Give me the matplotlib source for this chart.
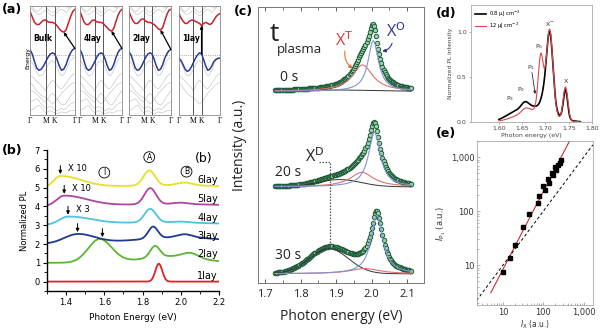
import numpy as np
import matplotlib.pyplot as plt
from matplotlib.ticker import FuncFormatter, MultipleLocator, LogLocator, NullFormatter

W, H = 600, 330

##### (a) band structures, energies normalised to the panel height #####
k_path = np.linspace(0, 1, 21)
k_ticks = [0, 0.35, 0.55, 1.0]
k_labels = ['Γ', 'M', 'K', 'Γ']
band_panels = ['Bulk', '4lay', '2lay', '1lay']

cb_bulk = [0.95, 0.90, 0.85, 0.83, 0.83, 0.85, 0.87, 0.87, 0.855, 0.85, 0.85, 0.84, 0.82, 0.79, 0.77, 0.76, 0.78, 0.84, 0.90, 0.95, 0.97]
cb_4lay = [0.95, 0.90, 0.85, 0.83, 0.83, 0.85, 0.87, 0.87, 0.855, 0.85, 0.85, 0.84, 0.82, 0.80, 0.78, 0.77, 0.79, 0.85, 0.91, 0.95, 0.97]
cb_2lay = [0.95, 0.90, 0.86, 0.84, 0.84, 0.86, 0.88, 0.88, 0.86, 0.85, 0.85, 0.84, 0.83, 0.81, 0.79, 0.78, 0.80, 0.86, 0.92, 0.96, 0.97]
cb_1lay = [0.93, 0.89, 0.86, 0.84, 0.84, 0.86, 0.87, 0.87, 0.86, 0.85, 0.84, 0.82, 0.84, 0.85, 0.84, 0.83, 0.84, 0.87, 0.90, 0.92, 0.93]

vb_bulk = [0.60, 0.56, 0.49, 0.43, 0.41, 0.42, 0.45, 0.49, 0.53, 0.56, 0.57, 0.56, 0.51, 0.45, 0.41, 0.42, 0.46, 0.52, 0.57, 0.60, 0.61]
vb_4lay = [0.60, 0.56, 0.49, 0.43, 0.41, 0.42, 0.45, 0.49, 0.53, 0.56, 0.57, 0.56, 0.51, 0.45, 0.41, 0.42, 0.46, 0.52, 0.57, 0.60, 0.61]
vb_2lay = [0.58, 0.55, 0.49, 0.43, 0.41, 0.42, 0.45, 0.49, 0.53, 0.56, 0.57, 0.56, 0.51, 0.45, 0.41, 0.42, 0.46, 0.52, 0.56, 0.59, 0.60]
vb_1lay = [0.52, 0.50, 0.46, 0.42, 0.40, 0.41, 0.44, 0.48, 0.52, 0.55, 0.57, 0.56, 0.51, 0.45, 0.41, 0.42, 0.45, 0.49, 0.51, 0.52, 0.52]

gray_up1 = [1.02, 0.99, 0.96, 0.95, 0.96, 0.98, 1.00, 0.99, 0.97, 0.95, 0.94, 0.95, 0.97, 0.99, 1.01, 1.02, 1.00, 0.98, 0.99, 1.01, 1.03]
gray_up2 = [0.98, 0.97, 0.95, 0.93, 0.92, 0.93, 0.95, 0.96, 0.94, 0.92, 0.91, 0.92, 0.94, 0.96, 0.97, 0.96, 0.94, 0.96, 0.98, 1.00, 1.00]
gray_lo1 = [0.50, 0.48, 0.44, 0.39, 0.36, 0.36, 0.38, 0.42, 0.46, 0.49, 0.50, 0.48, 0.44, 0.39, 0.36, 0.37, 0.41, 0.46, 0.50, 0.52, 0.53]
gray_lo2 = [0.36, 0.35, 0.33, 0.31, 0.29, 0.27, 0.25, 0.22, 0.26, 0.30, 0.32, 0.30, 0.27, 0.25, 0.24, 0.26, 0.29, 0.32, 0.35, 0.37, 0.38]
gray_lo3 = [0.30, 0.28, 0.25, 0.22, 0.20, 0.18, 0.17, 0.16, 0.14, 0.12, 0.10, 0.12, 0.14, 0.17, 0.20, 0.22, 0.24, 0.26, 0.28, 0.29, 0.30]
gray_lo4 = [0.22, 0.22, 0.21, 0.19, 0.17, 0.15, 0.13, 0.12, 0.15, 0.18, 0.20, 0.18, 0.15, 0.12, 0.10, 0.09, 0.11, 0.14, 0.17, 0.20, 0.22]
gray_lo5 = [0.12, 0.13, 0.14, 0.15, 0.13, 0.10, 0.08, 0.06, 0.07, 0.08, 0.07, 0.05, 0.04, 0.05, 0.06, 0.05, 0.06, 0.08, 0.10, 0.11, 0.12]
gray_lo6 = [0.04, 0.05, 0.06, 0.08, 0.09, 0.07, 0.04, 0.02, 0.03, 0.04, 0.03, 0.02, 0.01, 0.02, 0.03, 0.02, 0.02, 0.03, 0.04, 0.04, 0.04]

# gap arrows: (k, E) of valence start and conduction end
gap_start = [(1.0, 0.61), (1.0, 0.61), (1.0, 0.60), (0.55, 0.56)]
gap_end = [(0.75, 0.76), (0.75, 0.77), (0.75, 0.78), (0.55, 0.82)]

##### (b) layer dependent PL, peak parameters #####
layers = ['1lay', '2lay', '3lay', '4lay', '5lay', '6lay']
layer_colors = ['#e41f26', '#5db534', '#1f3a93', '#4ec3dc', '#b2449f', '#e5e02a']
layer_offset = [0, 1, 2, 3, 4, 5]
peakI_pos = [1.50, 1.575, 1.46, 1.41, 1.39, 1.37]
peakI_amp = [0.0, 1.25, 0.50, 0.42, 0.55, 0.60]
peakI_wl = [0.05, 0.060, 0.070, 0.045, 0.040, 0.035]
peakI_wr = [0.05, 0.065, 0.090, 0.120, 0.120, 0.110]
peakA_pos = [1.885, 1.865, 1.855, 1.84, 1.84, 1.835]
peakA_amp = [0.95, 0.60, 0.63, 0.72, 0.86, 0.80]
peakA_w = [0.018, 0.025, 0.025, 0.030, 0.030, 0.030]
peakB_pos = [2.05, 2.05, 2.02, 2.00, 2.00, 2.02]
peakB_amp = [0.0, 0.25, 0.17, 0.05, 0.08, 0.15]
bg_pos = [1.9, 1.95, 2.0, 1.9, 1.95, 1.95]
bg_amp = [0.0, 0.35, 0.35, 0.15, 0.12, 0.12]
bg_w = [0.2, 0.15, 0.25, 0.30, 0.30, 0.30]
arrow_text = ['', '', '', 'X 3', 'X 10', 'X 10']

##### (c) plasma treatment fits #####
c_times = ['0 s', '20 s', '30 s']
c_offset = [2.77, 1.32, 0.0]
x0_pos = [2.005, 2.008, 2.015]
x0_amp = [0.77, 0.83, 0.89]
x0_hw = [0.018, 0.020, 0.020]
xt_pos = [1.975, 1.973, 1.98]
xt_amp = [0.40, 0.22, 0.08]
xt_hw = [0.035, 0.040, 0.050]
xd_pos = [1.90, 1.91, 1.88]
xd_amp = [0.02, 0.11, 0.38]
xd_w = [0.10, 0.06, 0.055]

##### (d) power dependent PL #####
d_labels = ['0.8 μJ cm$^{-2}$', '12 μJ cm$^{-2}$']
d_colors = ['black', '#d9474a']
d_pos_low = [1.63, 1.656, 1.695, 1.709, 1.743, 1.68]
d_amp_low = [0.05, 0.07, 0.10, 0.88, 0.33, 0.17]
d_w_low = [0.020, 0.008, 0.006, 0.007, 0.0045, 0.035]
d_pos_high = [1.657, 1.69, 1.709, 1.743, 1.675]
d_amp_high = [0.04, 0.62, 0.95, 0.37, 0.13]
d_w_high = [0.008, 0.0055, 0.007, 0.005, 0.035]

##### (e) P1 vs X intensity #####
ix = [10, 14.6, 20.2, 31.3, 45, 74, 77, 98, 112, 128, 135, 163, 170, 191, 202, 231, 254, 280]
ip1 = [7.5, 13.6, 23.5, 51, 88, 139, 190, 290, 245, 403, 340, 515, 465, 650, 590, 730, 780, 870]
fit_exp = 1.44
fit_pref = 0.305


def box(x0, y0, x1, y1):
    return [x0 / W, 1 - y1 / H, (x1 - x0) / W, (y1 - y0) / H]


def gauss(x, c, a, w):
    return a * np.exp(-0.5 * ((x - c) / w) ** 2)


def lorentz(x, c, a, hw):
    return a / (1 + ((x - c) / hw) ** 2)


fig = plt.figure(figsize=(6, 3.3), dpi=100)

# ---------- (a) ----------
cbs = [cb_bulk, cb_4lay, cb_2lay, cb_1lay]
vbs = [vb_bulk, vb_4lay, vb_2lay, vb_1lay]
grays = [gray_up1, gray_up2, gray_lo1, gray_lo2, gray_lo3, gray_lo4, gray_lo5, gray_lo6]
a_boxes = [(30, 6, 75, 115), (80, 6, 122, 115), (129, 6, 171, 115), (179, 6, 220, 115)]
for i, name in enumerate(band_panels):
    ax = fig.add_axes(box(*a_boxes[i]))
    ng = len(grays) if i < 3 else 5
    for g in grays[:ng]:
        ax.plot(k_path, g, color='#c4c4c4', lw=0.45)
    ax.axhline(0.55, color='#888888', lw=0.6, ls=':')
    for kt in k_ticks[1:3]:
        ax.axvline(kt, color='#555555', lw=0.7)
    ax.plot(k_path, cbs[i], color='#c8202f', lw=1.1)
    ax.plot(k_path, vbs[i], color='#2a3a97', lw=1.1)
    ax.annotate('', xy=gap_end[i], xytext=gap_start[i],
                arrowprops=dict(arrowstyle='-|>', color='black', lw=0.9,
                                mutation_scale=4, shrinkA=0, shrinkB=0))
    ax.text(0.08, 0.68, name, fontsize=5.5, fontweight='bold')
    ax.set_xlim(0, 1)
    ax.set_ylim(0, 1.0)
    ax.set_xticks(k_ticks)
    ax.set_xticklabels(k_labels, family='Liberation Serif', fontsize=5.5)
    ax.set_yticks([])
    ax.tick_params(axis='x', length=0, pad=1.5)
    for s in ax.spines.values():
        s.set_color('#888888')
        s.set_linewidth(0.6)
fig.text(28 / W, 1 - 58 / H, 'Energy', rotation=90, fontsize=4.5, ha='center', va='center')

# ---------- (b) ----------
axb = fig.add_axes(box(47, 150, 219, 291))
eb = np.linspace(1.3, 2.2, 500)
for i, lay in enumerate(layers):
    left = eb < peakI_pos[i]
    wI = np.where(left, peakI_wl[i], peakI_wr[i])
    spec = (layer_offset[i] + gauss(eb, peakI_pos[i], peakI_amp[i], wI)
            + gauss(eb, peakA_pos[i], peakA_amp[i], peakA_w[i])
            + gauss(eb, peakB_pos[i], peakB_amp[i], 0.04)
            + gauss(eb, bg_pos[i], bg_amp[i], bg_w[i]))
    axb.plot(eb, spec, color=layer_colors[i], lw=1.3)
    axb.text(2.195, layer_offset[i] + (0.32 if i == 0 else 0.4 + 0.08 * (i == 1)), lay,
             fontsize=7, ha='right', va='center')
    if i > 0:
        top = np.interp(peakI_pos[i], eb, spec)
        xa = peakI_pos[i] + (0.015 if i == 1 else 0.0)
        axb.annotate('', xy=(xa, top + 0.1), xytext=(xa, top + 0.55),
                     arrowprops=dict(arrowstyle='-|>', color='black', lw=0.7,
                                     mutation_scale=5, shrinkA=0, shrinkB=0))
        if arrow_text[i]:
            axb.text(xa + 0.04, top + 0.4, arrow_text[i], fontsize=6, va='center')
circ = dict(boxstyle='circle,pad=0.12', fc='none', ec='black', lw=0.6)
axb.text(1.6, 5.8, 'I', fontsize=5.5, ha='center', va='center', bbox=circ)
axb.text(1.835, 6.62, 'A', fontsize=5.5, ha='center', va='center', bbox=circ)
axb.text(2.03, 5.85, 'B', fontsize=5.5, ha='center', va='center', bbox=circ)
axb.text(2.12, 6.55, '(b)', fontsize=9, ha='center', va='center')
axb.set_xlim(1.3, 2.2)
axb.set_ylim(-0.5, 7)
axb.xaxis.set_major_locator(MultipleLocator(0.2))
axb.xaxis.set_minor_locator(MultipleLocator(0.1))
axb.yaxis.set_major_locator(MultipleLocator(1))
axb.yaxis.set_minor_locator(MultipleLocator(0.5))
axb.xaxis.set_major_formatter(FuncFormatter(lambda v, p: f'{v:.1f}'))
axb.tick_params(labelsize=6, length=3, width=0.8, pad=2)
axb.tick_params(which='minor', length=2, width=0.6)
axb.spines['top'].set_visible(False)
axb.spines['right'].set_visible(False)
axb.spines['left'].set_linewidth(1.0)
axb.spines['bottom'].set_linewidth(1.0)
axb.set_xlabel('Photon Energy (eV)', fontsize=6.5, labelpad=4)
axb.set_ylabel('Normalized PL', fontsize=6, labelpad=4)

# ---------- (c) ----------
axc = fig.add_axes(box(258, 7, 424, 283))
ec = np.arange(1.728, 2.114, 0.003)
for i, t in enumerate(c_times):
    b = c_offset[i]
    p0 = lorentz(ec, x0_pos[i], x0_amp[i], x0_hw[i])
    pt = lorentz(ec, xt_pos[i], xt_amp[i], xt_hw[i])
    pd = gauss(ec, xd_pos[i], xd_amp[i], xd_w[i])
    axc.plot(ec, b + p0 + pt + pd, ls='none', marker='o', ms=3.2, mfc='#9fd3b0',
             mec='#1c5a36', mew=0.7)
    axc.plot(ec, b + pd, color='#333333', lw=0.7)
    axc.plot(ec, b + pt, color='#e0716f', lw=0.8)
    axc.plot(ec, b + p0, color='#7f93d6', lw=0.8)
axc.text(1.742, c_offset[0] + 0.1, c_times[0], fontsize=10, family='Open Sans',
         va='bottom', color='#222222')
axc.text(1.728, c_offset[1] + 0.1, c_times[1], fontsize=10, family='Open Sans',
         va='bottom', color='#222222')
axc.text(1.728, c_offset[2] + 0.17, c_times[2], fontsize=10, family='Open Sans',
         va='bottom', color='#222222')
axc.text(1.712, 3.44, 't', fontsize=19, family='Open Sans', va='bottom', color='#222222')
axc.text(1.733, 3.3, 'plasma', fontsize=9.5, family='Open Sans', va='bottom', color='#222222')
axc.text(1.924, 3.54, r'X$^{\rm T}$', fontsize=11.5, family='Open Sans', color='#d93a35',
         ha='center', va='center')
axc.text(2.068, 3.67, r'X$^{\rm O}$', fontsize=11.5, family='Open Sans', color='#2c3592',
         ha='center', va='center')
axc.annotate('', xy=(1.947, 3.12), xytext=(1.925, 3.38),
             arrowprops=dict(arrowstyle='-|>', color='#e07030', lw=0.8, mutation_scale=5,
                             shrinkA=0, shrinkB=0, connectionstyle='arc3,rad=0.3'))
axc.annotate('', xy=(2.03, 3.38), xytext=(2.058, 3.5),
             arrowprops=dict(arrowstyle='-|>', color='#2c3592', lw=0.8, mutation_scale=5,
                             shrinkA=0, shrinkB=0, connectionstyle='arc3,rad=-0.3'))
axc.text(1.812, 1.64, r'X$^{\rm D}$', fontsize=11.5, family='Open Sans', color='#222222',
         va='bottom')
axc.plot([1.853, 1.882, 1.882], [1.70, 1.70, 0.42], color='#555555', lw=0.9, ls=(0, (1.2, 1.2)))
axc.set_xlim(1.68, 2.148)
axc.set_ylim(-0.14, 4.05)
axc.set_yticks([])
axc.xaxis.set_major_locator(MultipleLocator(0.1))
axc.xaxis.set_minor_locator(MultipleLocator(0.05))
axc.xaxis.set_major_formatter(FuncFormatter(lambda v, p: f'{v:.1f}'))
axc.tick_params(axis='x', direction='in', top=True, labelsize=8, length=3, width=0.6, pad=4,
                labelfontfamily='Open Sans', colors='#444444', labelcolor='#222222')
axc.tick_params(axis='x', which='minor', direction='in', top=True, length=2, width=0.5,
                colors='#444444')
for s in axc.spines.values():
    s.set_color('#777777')
    s.set_linewidth(0.7)
axc.set_xlabel('Photon energy (eV)', fontsize=10, family='Open Sans', labelpad=7, color='#222222')
axc.set_ylabel('Intensity (a.u.)', fontsize=10, family='Open Sans', labelpad=8, color='#222222')

# ---------- (d) ----------
axd = fig.add_axes(box(471, 5, 592, 122))
ed = np.linspace(1.60, 1.775, 400)
low = sum(gauss(ed, c, a, w) for c, a, w in zip(d_pos_low, d_amp_low, d_w_low))
high = sum(gauss(ed, c, a, w) for c, a, w in zip(d_pos_high, d_amp_high, d_w_high))
axd.plot(ed, low, color=d_colors[0], lw=1.2, label=d_labels[0])
axd.plot(ed, high, color=d_colors[1], lw=0.8, label=d_labels[1])
axd.legend(loc='upper left', fontsize=3.8, frameon=False, handlelength=2.2,
           borderaxespad=0.3, labelspacing=0.4, handletextpad=0.6)
lab = dict(fontsize=4.5, ha='center', va='center', color='#333333')
axd.text(1.624, 0.26, 'P$_3$', **lab)
axd.text(1.648, 0.36, 'P$_2$', **lab)
axd.text(1.669, 0.61, 'P$_1$', **lab)
axd.text(1.686, 0.84, 'P$_0$', **lab)
axd.text(1.709, 1.09, 'X$^{-}$', **lab)
axd.text(1.744, 0.45, 'X', **lab)
axd.annotate('', xy=(1.678, 0.31), xytext=(1.671, 0.55),
             arrowprops=dict(arrowstyle='-|>', color='#333333', lw=0.6, mutation_scale=4,
                             shrinkA=0, shrinkB=0))
axd.set_xlim(1.54, 1.80)
axd.set_ylim(0, 1.3)
axd.set_xticks([1.60, 1.65, 1.70, 1.75, 1.80])
axd.xaxis.set_major_formatter(FuncFormatter(lambda v, p: f'{v:.2f}'))
axd.set_yticks([0.0, 0.5, 1.0])
axd.yaxis.set_major_formatter(FuncFormatter(lambda v, p: f'{v:.1f}'))
axd.tick_params(labelsize=4.5, length=1.5, width=0.4, pad=1.5, colors='#777777',
                labelcolor='#444444')
for s in axd.spines.values():
    s.set_color('#999999')
    s.set_linewidth(0.5)
axd.set_xlabel('Photon energy (eV)', fontsize=4.5, labelpad=1.5, color='#444444')
axd.set_ylabel('Normalized PL intensity', fontsize=4.3, labelpad=3, color='#444444')

# ---------- (e) ----------
axe = fig.add_axes(box(477, 141, 593, 305))
xf = np.array([5.0, 470.0])
axe.plot(xf, fit_pref * xf ** fit_exp, color='#cc2b33', lw=0.8)
axe.plot([2.2, 1700], [2.2, 1700], color='black', lw=0.7, ls=(0, (3, 2.5)))
axe.plot(ix, ip1, ls='none', marker='s', ms=3.0, color='black')
axe.set_xscale('log')
axe.set_yscale('log')
axe.set_xlim(2.26, 1711)
axe.set_ylim(1.82, 2000)
thou = FuncFormatter(lambda v, p: f'{int(round(v)):,}')
axe.xaxis.set_major_locator(LogLocator(base=10, numticks=10))
axe.yaxis.set_major_locator(LogLocator(base=10, numticks=10))
axe.xaxis.set_major_formatter(thou)
axe.yaxis.set_major_formatter(thou)
axe.xaxis.set_minor_formatter(NullFormatter())
axe.yaxis.set_minor_formatter(NullFormatter())
axe.tick_params(which='both', direction='in', labelsize=6, colors='#777777', labelcolor='#333333',
                width=0.4, pad=2)
axe.tick_params(which='major', length=2.5)
axe.tick_params(which='minor', length=1.5)
for s in axe.spines.values():
    s.set_color('#999999')
    s.set_linewidth(0.5)
axe.set_xlabel(r'$I_{\rm X}$ (a.u.)', fontsize=5.5, labelpad=1, color='#333333')
axe.set_ylabel(r'$I_{\rm P_1}$ (a.u.)', fontsize=6, labelpad=2, color='#333333')

# panel letters
for lbl, (x, y) in zip(['(a)', '(b)', '(c)', '(d)', '(e)'],
                       [(12, 10), (12, 151), (243, 12), (446, 13), (446, 134)]):
    fig.text(x / W, 1 - y / H, lbl, fontsize=9, fontweight='bold', ha='center', va='center')

fig.savefig('out.png', dpi=100)
